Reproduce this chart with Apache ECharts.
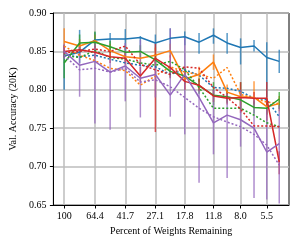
<!DOCTYPE html>
<html><head><meta charset="utf-8">
<script src="https://cdn.jsdelivr.net/npm/echarts@6/dist/echarts.min.js"></script>
<style>html,body{margin:0;padding:0;background:#fff}#c{width:302px;height:245px}</style>
</head><body><div id="c"></div>
<script>
const pct = [100, 80.2, 64.4, 51.8, 41.7, 33.6, 27.1, 21.9, 17.8, 14.5, 11.8, 9.7, 8.0, 6.6, 5.5, 4.6];
const xTickValues = [100, 64.4, 41.7, 27.1, 17.8, 11.8, 8.0, 5.5];
const xTickLabels = ["100", "64.4", "41.7", "27.1", "17.8", "11.8", "8.0", "5.5"];

const blueSolid = [0.844, 0.849, 0.865, 0.866, 0.866, 0.868, 0.861, 0.867, 0.869, 0.862, 0.871, 0.861, 0.855, 0.857, 0.842, 0.837];
const blueLow   = [0.800, 0.835, 0.855, 0.852, 0.852, 0.848, 0.850, 0.852, 0.858, 0.847, 0.860, 0.847, 0.833, 0.850, 0.790, 0.822];
const blueHigh  = [0.858, 0.878, 0.875, 0.874, 0.879, 0.870, 0.872, 0.880, 0.876, 0.874, 0.880, 0.874, 0.867, 0.865, 0.862, 0.852];
const blueDot   = [0.845, 0.843, 0.845, 0.840, 0.835, 0.832, 0.830, 0.820, 0.826, 0.819, 0.803, 0.802, 0.798, 0.789, 0.787, 0.765];

const orangeSolid = [0.863, 0.857, 0.864, 0.851, 0.843, 0.841, 0.845, 0.851, 0.814, 0.820, 0.836, 0.797, 0.791, 0.790, 0.778, 0.782];
const orangeLow   = [0.850, 0.848, 0.855, 0.843, 0.835, 0.832, 0.835, 0.842, 0.800, 0.810, 0.826, 0.787, 0.780, 0.776, 0.768, 0.772];
const orangeHigh  = [0.880, 0.866, 0.872, 0.860, 0.851, 0.850, 0.855, 0.860, 0.828, 0.830, 0.846, 0.807, 0.800, 0.811, 0.788, 0.792];
const orangeDot   = [0.857, 0.845, 0.838, 0.828, 0.825, 0.806, 0.818, 0.830, 0.823, 0.820, 0.815, 0.829, 0.794, 0.789, 0.784, 0.782];

const greenSolid = [0.835, 0.861, 0.862, 0.856, 0.849, 0.850, 0.839, 0.824, 0.818, 0.805, 0.793, 0.791, 0.787, 0.777, 0.776, 0.788];
const greenLow   = [0.815, 0.850, 0.848, 0.848, 0.841, 0.842, 0.831, 0.816, 0.808, 0.795, 0.780, 0.783, 0.775, 0.769, 0.768, 0.775];
const greenHigh  = [0.850, 0.872, 0.876, 0.864, 0.857, 0.858, 0.847, 0.832, 0.828, 0.815, 0.810, 0.799, 0.810, 0.785, 0.784, 0.797];
const greenDot   = [0.845, 0.842, 0.851, 0.842, 0.840, 0.835, 0.832, 0.837, 0.826, 0.803, 0.776, 0.776, 0.776, 0.767, 0.757, 0.752];

const redSolid = [0.850, 0.852, 0.849, 0.843, 0.841, 0.818, 0.841, 0.829, 0.811, 0.806, 0.792, 0.789, 0.790, 0.789, 0.789, 0.706];
const redLow   = [0.842, 0.844, 0.841, 0.835, 0.833, 0.810, 0.745, 0.815, 0.800, 0.798, 0.784, 0.781, 0.770, 0.781, 0.760, 0.690];
const redHigh  = [0.858, 0.860, 0.857, 0.851, 0.849, 0.830, 0.860, 0.845, 0.830, 0.814, 0.800, 0.797, 0.810, 0.797, 0.810, 0.720];
const redDot   = [0.848, 0.850, 0.853, 0.850, 0.857, 0.833, 0.826, 0.820, 0.830, 0.828, 0.803, 0.790, 0.775, 0.753, 0.753, 0.752];

const purpleSolid = [0.850, 0.832, 0.837, 0.823, 0.831, 0.815, 0.820, 0.793, 0.820, 0.790, 0.757, 0.767, 0.761, 0.750, 0.719, 0.730];
const purpleLow   = [0.840, 0.791, 0.756, 0.748, 0.785, 0.764, 0.790, 0.765, 0.742, 0.679, 0.716, 0.685, 0.726, 0.659, 0.657, 0.652];
const purpleHigh  = [0.860, 0.857, 0.862, 0.840, 0.861, 0.865, 0.840, 0.880, 0.870, 0.800, 0.800, 0.795, 0.800, 0.790, 0.780, 0.780];
const purpleDot   = [0.845, 0.826, 0.828, 0.823, 0.828, 0.810, 0.813, 0.804, 0.790, 0.776, 0.765, 0.758, 0.752, 0.742, 0.728, 0.702];

const groups = [
  {color: '#1f77b4', solid: blueSolid, low: blueLow, high: blueHigh, dot: blueDot},
  {color: '#ff7f0e', solid: orangeSolid, low: orangeLow, high: orangeHigh, dot: orangeDot},
  {color: '#2ca02c', solid: greenSolid, low: greenLow, high: greenHigh, dot: greenDot},
  {color: '#d62728', solid: redSolid, low: redLow, high: redHigh, dot: redDot},
  {color: '#9467bd', solid: purpleSolid, low: purpleLow, high: purpleHigh, dot: purpleDot}
];

const FONT = 'Liberation Serif';
const lx = pct.map(p => Math.log(p));
const series = [];
groups.forEach(g => {
  series.push({
    type: 'custom', clip: true,
    encode: {x: 0, y: [1, 2]},
    data: lx.map((x, i) => [x, g.low[i], g.high[i]]),
    renderItem: function (params, api) {
      const x = api.value(0);
      const a = api.coord([x, api.value(1)]);
      const b = api.coord([x, api.value(2)]);
      return {type: 'line', shape: {x1: a[0], y1: a[1], x2: b[0], y2: b[1]},
        style: {stroke: g.color, lineWidth: 1.5, opacity: 0.75}};
    },
    silent: true
  });
  series.push({
    type: 'line', data: lx.map((x, i) => [x, g.solid[i]]), symbol: 'none',
    lineStyle: {color: g.color, width: 1.5}, itemStyle: {color: g.color}, silent: true
  });
  series.push({
    type: 'line', data: lx.map((x, i) => [x, g.dot[i]]), symbol: 'none',
    lineStyle: {color: g.color, width: 1.5, type: [2, 2]}, itemStyle: {color: g.color}, silent: true
  });
});

const tickLx = xTickValues.map(v => Math.log(v));
const chart = echarts.init(document.getElementById('c'), null, {renderer: 'canvas'});
chart.setOption({
  animation: false,
  grid: {left: 48, right: 13, top: 13, bottom: 40, show: true, borderColor: '#000', borderWidth: 1, backgroundColor: 'transparent'},
  xAxis: {
    type: 'value', inverse: true,
    min: Math.log(4.0), max: Math.log(116.7),
    name: 'Percent of Weights Remaining', nameLocation: 'middle', nameGap: 20,
    nameTextStyle: {fontFamily: FONT, fontSize: 10, color: '#000'},
    axisLine: {show: true, onZero: false, lineStyle: {color: '#000', width: 1}},
    axisTick: {show: true, inside: false, length: 3.5, customValues: tickLx, lineStyle: {color: '#000'}},
    axisLabel: {customValues: tickLx, margin: 6, fontFamily: FONT, fontSize: 10, color: '#000',
      formatter: function (v) {
        let best = 0;
        tickLx.forEach((t, i) => { if (Math.abs(t - v) < Math.abs(tickLx[best] - v)) best = i; });
        return xTickLabels[best];
      }},
    splitLine: {show: true, lineStyle: {color: '#bdbdbd', width: 1.5}}
  },
  yAxis: {
    type: 'value', min: 0.65, max: 0.90, interval: 0.05,
    name: 'Val. Accuracy (20K)', nameLocation: 'middle', nameGap: 33,
    nameTextStyle: {fontFamily: FONT, fontSize: 10, color: '#000'},
    axisLine: {show: true, lineStyle: {color: '#000', width: 1}},
    axisTick: {show: true, inside: false, length: 3.5, lineStyle: {color: '#000'}},
    axisLabel: {margin: 7, fontFamily: FONT, fontSize: 10, color: '#000', formatter: v => v.toFixed(2)},
    splitLine: {show: true, lineStyle: {color: '#bdbdbd', width: 1.5}}
  },
  series: series
});
</script>
</body></html>
